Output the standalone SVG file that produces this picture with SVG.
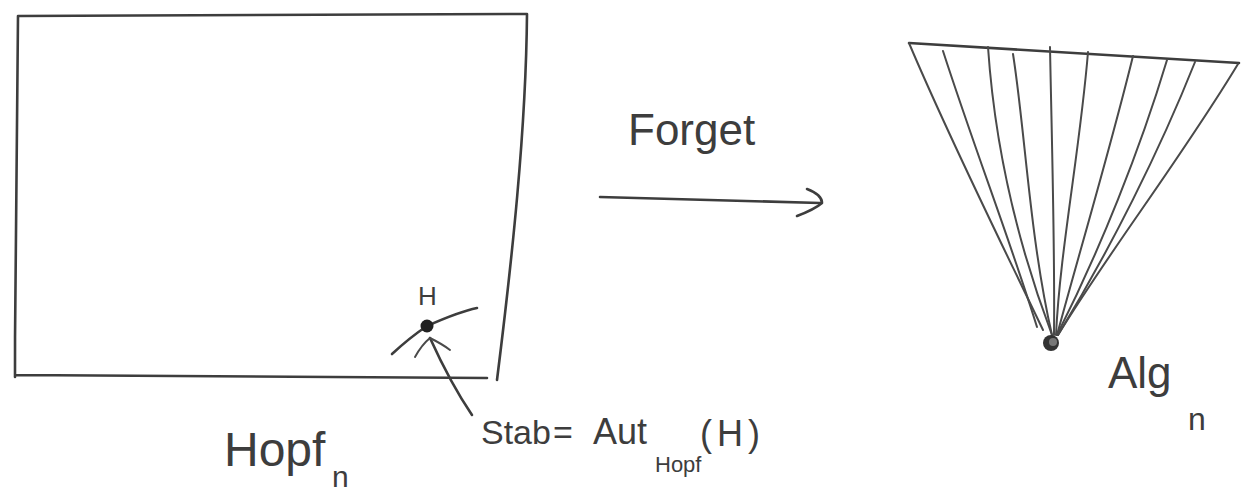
<svg xmlns="http://www.w3.org/2000/svg" width="1241" height="491" viewBox="0 0 1241 491">
  <style>
    .ink { fill: none; stroke: #3d3d3d; stroke-width: 2.6; stroke-linecap: round; stroke-linejoin: round; }
    .thin { fill: none; stroke: #4a4a4a; stroke-width: 2; stroke-linecap: round; }
    .hand { font-family: "Liberation Sans", "DejaVu Sans", sans-serif; fill: #3d3d3d; }
  </style>
  <rect width="1241" height="491" fill="#ffffff"/>

  <!-- Hopf_n: the category drawn as a box -->
  <g id="hopf">
    <path class="ink" d="M18,16 L527,14 M527,14 C526,130 512,260 497,380 M18,16 C16,120 15,250 15,377 M15,375 L487,378"/>
    <text class="hand" x="224" y="466" font-size="48">Hopf</text>
    <text class="hand" x="332" y="487" font-size="30">n</text>
  </g>

  <!-- the object H with its local neighbourhood -->
  <g id="point-h">
    <path class="ink" d="M392,354 C405,342 418,332 427,326 C445,318 462,311 477,308"/>
    <circle cx="427" cy="326" r="6.5" fill="#222"/>
    <text class="hand" x="418" y="305" font-size="26">H</text>
  </g>

  <!-- Alg_n: the cone of algebras -->
  <g id="alg">
    <path class="ink" d="M909,43 L1239,63"/>
    <path class="thin" d="M909,43 C950,140 1000,240 1043,330"/>
    <path class="thin" d="M1238,64 C1180,160 1110,250 1058,335"/>
    <path class="thin" d="M943,51 C975,150 1010,240 1037,327"/>
    <path class="thin" d="M988,47 C995,150 1020,250 1052,335"/>
    <path class="thin" d="M1013,54 C1025,130 1030,240 1052,335"/>
    <path class="thin" d="M1050,47 C1052,150 1055,250 1054,335"/>
    <path class="thin" d="M1088,52 C1080,150 1060,250 1056,335"/>
    <path class="thin" d="M1133,56 C1110,150 1080,250 1057,335"/>
    <path class="thin" d="M1167,60 C1140,150 1100,250 1057,335"/>
    <path class="thin" d="M1195,62 C1160,150 1110,250 1058,335"/>
    <circle cx="1051" cy="343" r="8" fill="#333"/>
    <circle cx="1053" cy="342" r="4" fill="#777"/>
    <text class="hand" x="1108" y="388" font-size="44">Alg</text>
    <text class="hand" x="1188" y="430" font-size="32">n</text>
  </g>

  <g id="connectors">
    <!-- Forget functor -->
    <path class="ink" d="M600,197 C680,199 760,201 820,203"/>
    <path class="ink" d="M807,189 C815,192 822,197 822,203 C815,209 805,213 797,216"/>
    <text class="hand" x="628" y="145" font-size="44">Forget</text>
    <!-- pointer to the stabiliser -->
    <path class="ink" d="M430,338 C440,360 455,390 472,415"/>
    <path class="thin" d="M415,357 C420,348 425,342 430,338 C438,342 445,346 450,350"/>
    <text class="hand" x="481" y="444" font-size="34">Stab</text>
    <text class="hand" x="553" y="444" font-size="34">=</text>
    <text class="hand" x="593" y="444" font-size="36">Aut</text>
    <text class="hand" x="655" y="472" font-size="22">Hopf</text>
    <text class="hand" x="700" y="446" font-size="36">(</text>
    <text class="hand" x="717" y="446" font-size="36">H</text>
    <text class="hand" x="748" y="446" font-size="36">)</text>
  </g>
</svg>
